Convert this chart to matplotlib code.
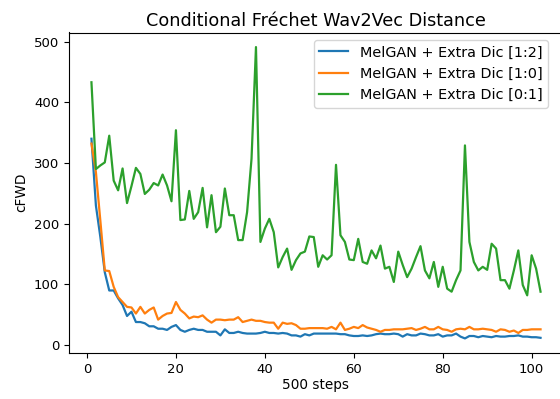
import numpy as np
import matplotlib
matplotlib.use("Agg")
import matplotlib.pyplot as plt

# x axis: evaluation index (every 500 steps)
steps = np.arange(1, 103)

# cFWD values
dic_1_2 = [340, 230, 178, 120, 90, 90, 77, 66, 48, 55,
           38, 38, 36, 31, 31, 27, 27, 25, 30, 33,
           25, 22, 25, 27, 25, 25, 22, 22, 22, 16,
           26, 20, 20, 22, 20, 19, 19, 19, 20, 22,
           20, 20, 19, 20, 19, 16, 16, 14, 18, 16,
           19, 19, 19, 19, 19, 19, 18, 18, 16, 15,
           15, 16, 15, 16, 18, 19, 18, 18, 19, 18,
           14, 18, 16, 16, 19, 18, 16, 16, 18, 14,
           16, 16, 19, 14, 11, 15, 15, 13, 15, 14,
           13, 15, 14, 14, 15, 15, 16, 14, 14, 13,
           13, 12]

dic_1_0 = [332, 285, 205, 123, 122, 96, 79, 71, 63, 62,
           52, 63, 52, 58, 62, 42, 48, 52, 53, 71,
           58, 52, 44, 47, 46, 49, 42, 37, 42, 42,
           41, 42, 42, 46, 38, 40, 42, 40, 40, 38,
           37, 37, 27, 37, 35, 36, 33, 27, 27, 28,
           28, 28, 28, 27, 30, 26, 37, 25, 27, 30,
           28, 33, 29, 27, 25, 22, 25, 25, 26, 26,
           26, 27, 28, 25, 27, 30, 26, 26, 30, 26,
           25, 22, 26, 27, 26, 30, 26, 26, 27, 26,
           25, 22, 26, 25, 22, 24, 20, 25, 25, 26,
           26, 26]

dic_0_1 = [433, 290, 296, 301, 345, 271, 255, 291, 234, 262,
           292, 282, 249, 256, 267, 263, 281, 263, 237, 354,
           206, 207, 254, 208, 219, 259, 194, 247, 186, 195,
           258, 214, 214, 173, 173, 219, 307, 491, 170, 192,
           208, 186, 128, 145, 159, 124, 140, 151, 154, 179,
           178, 129, 148, 141, 148, 297, 181, 170, 141, 140,
           175, 137, 134, 156, 143, 164, 126, 129, 104, 154,
           132, 112, 126, 145, 163, 123, 110, 137, 96, 129,
           93, 88, 107, 123, 329, 170, 137, 123, 129, 124,
           167, 159, 107, 107, 93, 123, 156, 99, 82, 148,
           126, 88]

labels = ["MelGAN + Extra Dic [1:2]",
          "MelGAN + Extra Dic [1:0]",
          "MelGAN + Extra Dic [0:1]"]

fig = plt.figure(figsize=(5.6, 3.99), dpi=100)
# the reference is cropped on the right, so the axes run past the edge
ax = fig.add_axes([69 / 560, 46 / 399, 494 / 560, 320.5 / 399])

for series, label in zip([dic_1_2, dic_1_0, dic_0_1], labels):
    ax.plot(steps, series, label=label, linewidth=1.6)

ax.set_title("Conditional Fréchet Wav2Vec Distance", fontsize=12.7, pad=5)
ax.set_xlabel("500 steps", fontsize=9.8, labelpad=2)
ax.set_ylabel("cFWD", fontsize=9.8)
ax.set_xticks([0, 20, 40, 60, 80, 100])
ax.set_yticks([0, 100, 200, 300, 400, 500])
ax.tick_params(labelsize=9.5)
ax.legend(loc="upper right", fontsize=10.4, bbox_to_anchor=(0.985, 1.0))

fig.savefig("out.png", dpi=100)
